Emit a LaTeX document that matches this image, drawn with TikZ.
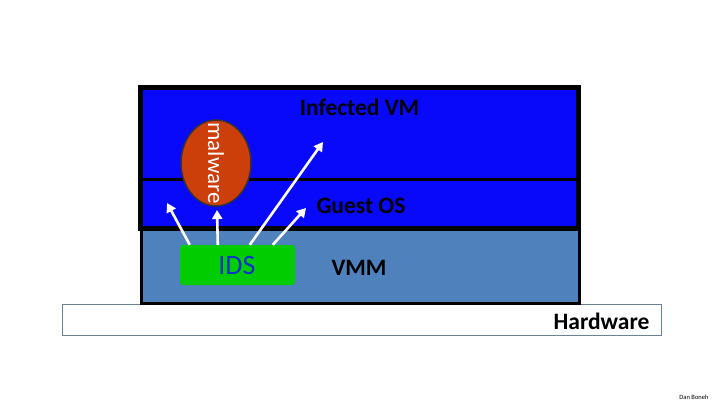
\documentclass[tikz,border=0pt]{standalone}
\usepackage{fontspec}
\setmainfont{Carlito}
\definecolor{vmblue}{RGB}{8,8,250}
\definecolor{vmmblue}{RGB}{79,129,189}
\definecolor{malred}{RGB}{204,62,10}
\definecolor{idsgreen}{RGB}{0,204,0}
\definecolor{idstext}{RGB}{10,50,200}
\definecolor{hwgray}{RGB}{110,130,150}
\usetikzlibrary{shapes,arrows.meta,positioning,calc}

\begin{document}
\begin{tikzpicture}[x=1pt,y=-1pt,
    layer/.style={inner sep=0pt, outer sep=0pt},
    lbl/.style={font=\bfseries\fontsize{23.5}{23.5}\selectfont, text=black},
    probe/.style={draw=white, line width=2.6pt, -{Triangle[length=9pt,width=10pt]}}]
    \useasboundingbox (0,0) rectangle (720,405);
    % hardware and vmm layers
    \node[layer, draw=hwgray, line width=0.8pt, fill=white, minimum width=599pt, minimum height=31pt] (hw) at (361.5,319.5) {};
    \node[layer, draw=black, line width=3pt, fill=vmmblue, minimum width=438pt, minimum height=75pt] (vmm) at (360,265.5) {};
    % infected vm
    \node[layer, draw=black, line width=5pt, fill=vmblue, minimum width=438pt, minimum height=141pt] (vm) at (359,157.5) {};
    \draw[line width=3pt] (vm.west |- 0,179) -- (vm.east |- 0,179);
    \node[lbl] (vmlbl) at (359.5,107) {Infected VM};
    \node[lbl] (oslbl) at (361,206) {Guest OS};
    \node[lbl] (vmmlbl) at (359,268) {VMM};
    \node[lbl, anchor=east] (hwlbl) at (653,321) {Hardware};
    % malware inside the guest
    \node[ellipse, draw=black!80, line width=1.5pt, fill=malred, minimum width=70pt, minimum height=86pt, inner sep=0pt] (mal) at (216,163) {};
    \node[rotate=-90, text=white, font=\fontsize{23}{23}\selectfont] (mallbl) at (mal) {malware};
    % ids in the vmm
    \node[rounded corners=3pt, fill=idsgreen, minimum width=115pt, minimum height=40pt] (ids) at (237.5,265) {};
    \node[text=idstext, font=\fontsize{28}{28}\selectfont] (idslbl) at (237,266) {IDS};
    \coordinate (t1) at (167,203);
    \coordinate (t2) at (217,210);
    \coordinate (t3) at (323,142);
    \coordinate (t4) at (306,208);
    \draw[probe] ([xshift=10pt]ids.north west) -- (t1);
    \draw[probe] ([xshift=38pt]ids.north west) -- (t2);
    \draw[probe] ([xshift=70pt]ids.north west) -- (t3);
    \draw[probe] ([xshift=93pt]ids.north west) -- (t4);
    \node[font=\fontsize{6.5}{6.5}\selectfont] (credit) at (694,397) {Dan Boneh};
\end{tikzpicture}
\end{document}
